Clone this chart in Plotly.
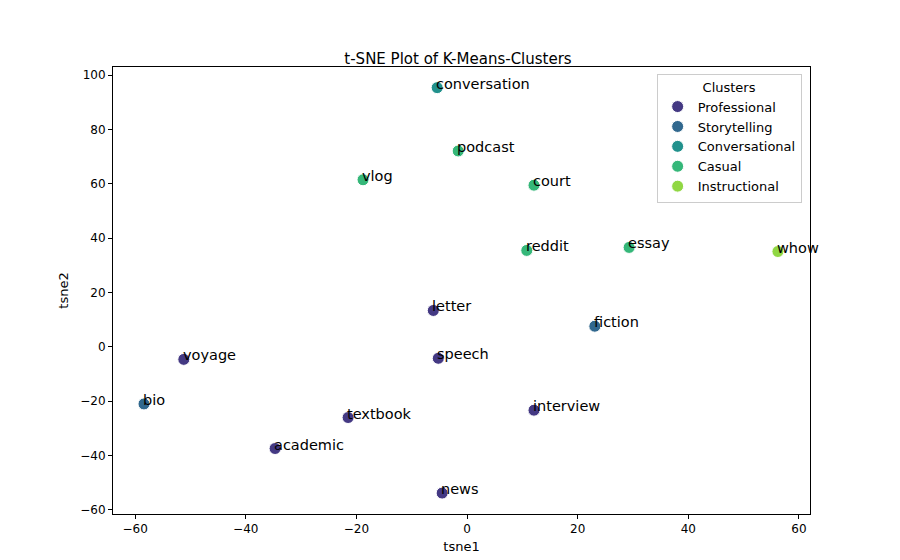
import plotly.graph_objects as go

labels = ["conversation", "podcast", "vlog", "court", "reddit", "essay", "whow",
          "letter", "fiction", "speech", "voyage", "bio", "textbook", "interview",
          "academic", "news"]
tsne1 = [-5.4, -1.6, -18.8, 12.1, 10.8, 29.3, 56.2, -6.1, 23.1, -5.2, -51.2,
         -58.4, -21.5, 12.1, -34.7, -4.5]
tsne2 = [95.4, 72.1, 61.5, 59.5, 35.5, 36.6, 35.1, 13.4, 7.6, -4.2, -4.6,
         -21.0, -26.0, -23.3, -37.4, -53.8]
cluster = ["Conversational", "Casual", "Casual", "Casual", "Casual", "Casual",
           "Instructional", "Professional", "Storytelling", "Professional",
           "Professional", "Storytelling", "Professional", "Professional",
           "Professional", "Professional"]
cluster_names = ["Professional", "Storytelling", "Conversational", "Casual", "Instructional"]
colors = ["#443983", "#31688e", "#21918c", "#35b779", "#90d743"]

fig = go.Figure()
for name, col in zip(cluster_names, colors):
    idx = [i for i, c in enumerate(cluster) if c == name]
    fig.add_trace(go.Scatter(
        x=[tsne1[i] for i in idx], y=[tsne2[i] for i in idx],
        mode="markers", name=name,
        marker=dict(size=12, color=col, line=dict(color="white", width=1)),
    ))

for x, y, t in zip(tsne1, tsne2, labels):
    fig.add_annotation(x=x, y=y, text=t, showarrow=False, xanchor="left",
                       yanchor="middle", yshift=4, xshift=-3,
                       font=dict(size=14.5, color="black"))

axis = dict(showgrid=False, zeroline=False, showline=True, linecolor="black",
            mirror=True, ticks="outside", ticklen=4, tickcolor="black",
            tickfont=dict(size=12, color="black"))
fig.update_xaxes(range=[-64, 62], dtick=20,
                 title=dict(text="tsne1", font=dict(size=13), standoff=6), **axis)
fig.update_yaxes(range=[-61.5, 103], dtick=20,
                 title=dict(text="tsne2", font=dict(size=13), standoff=8), **axis)

fig.update_layout(
    width=900, height=560,
    margin=dict(l=105, r=98, t=59, b=54),
    plot_bgcolor="white", paper_bgcolor="white",
    font=dict(family="DejaVu Sans", color="black"),
    title=dict(text="t-SNE Plot of K-Means-Clusters", x=0.5, xanchor="center",
               y=0.9, yanchor="bottom", font=dict(size=15)),
    showlegend=True,
    legend=dict(title=dict(text="Clusters", side="top center", font=dict(size=13)),
                x=0.988, y=0.985, xanchor="right", yanchor="top",
                bordercolor="#cccccc", borderwidth=1, bgcolor="rgba(255,255,255,0.8)",
                font=dict(size=13)),
)

fig.write_html("out.html")
